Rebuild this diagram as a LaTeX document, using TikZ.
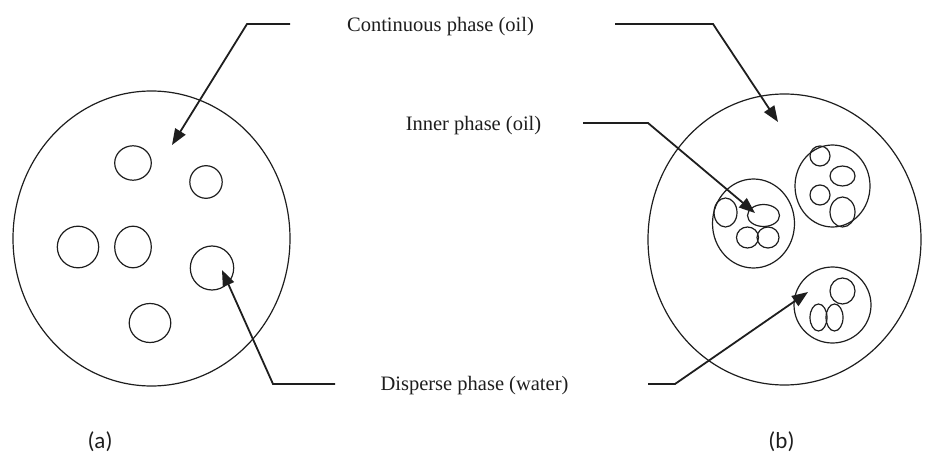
\documentclass[tikz,border=0pt]{standalone}
\usepackage{fontspec}
\setmainfont{Liberation Serif}
\newfontfamily\capfont{Carlito}
\usetikzlibrary{arrows.meta,shapes.geometric}
\definecolor{ink}{HTML}{1E1E1E}

\begin{document}
\begin{tikzpicture}[x=1pt,y=-1pt,
  phase/.style={draw=ink,ellipse,inner sep=0pt,line width=1.2pt},
  sz/.style 2 args={minimum width=#1pt,minimum height=#2pt},
  lbl/.style={anchor=base,inner sep=0pt,text=ink,font=\fontsize{20.5}{24}\selectfont},
  sublbl/.style={anchor=base,inner sep=0pt,text=ink,font=\capfont\fontsize{23}{27}\selectfont},
  pointer/.style={draw=ink,line width=1.8pt,-{Triangle[length=16pt,width=12pt]}}]
\useasboundingbox (0,0) rectangle (925,462);
% (a) water in oil
\node[phase,sz={277}{295}] (outa) at (151.5,238.5) {};
\node[phase,sz={36.6}{34.4}] (wa) at (133,163) {};
\node[phase,sz={32.4}{32.6}] (wb) at (206,182) {};
\node[phase,sz={41.4}{41.6}] (wc) at (78,247) {};
\node[phase,sz={36.6}{41.6}] (wd) at (133,247) {};
\node[phase,sz={43.4}{44}] (we) at (212,268) {};
\node[phase,sz={41.6}{39}] (wf) at (150,323) {};
% (b) oil in water in oil
\node[phase,sz={273}{291}] (outb) at (784.5,239.5) {};
\node[phase,sz={82}{89}] (ga) at (753.5,223.5) {};
\node[phase,sz={23}{29}] (ga1) at (725.5,212.5) {};
\node[phase,sz={32}{22}] (ga2) at (763.5,215.5) {};
\node[phase,sz={22}{21}] (ga3) at (747.5,237.5) {};
\node[phase,sz={22}{21}] (ga4) at (768,237.5) {};
\node[phase,sz={75}{82}] (gb) at (832.5,186) {};
\node[phase,sz={20}{20}] (gb1) at (820,156) {};
\node[phase,sz={25}{20}] (gb2) at (842.5,176) {};
\node[phase,sz={20}{20}] (gb3) at (820,195) {};
\node[phase,sz={25}{30}] (gb4) at (842.5,212) {};
\node[phase,sz={77}{76}] (gc) at (832.5,305) {};
\node[phase,sz={25}{26}] (gc1) at (842.5,291) {};
\node[phase,sz={17}{27}] (gc2) at (818.5,317.5) {};
\node[phase,sz={17}{27}] (gc3) at (834.5,317.5) {};
% labels
\node[lbl] (cont) at (440.5,32) {Continuous phase (oil)};
\node[lbl] (inner) at (473.5,131) {Inner phase (oil)};
\node[lbl] (disp) at (474.5,390) {Disperse phase (water)};
\node[sublbl] (capa) at (100,448) {(a)};
\node[sublbl] (capb) at (781.5,448) {(b)};
% leader lines
\coordinate (c1) at (290,24);  \coordinate (k1) at (247,24);  \coordinate (t1) at (172,145);
\coordinate (c2) at (615,24);  \coordinate (k2) at (713,24);  \coordinate (t2) at (778,122);
\coordinate (c3) at (583,123); \coordinate (k3) at (648,123); \coordinate (t3) at (755,213);
\coordinate (c4) at (335,384); \coordinate (k4) at (273,384); \coordinate (t4) at (222,270);
\coordinate (c5) at (648,384); \coordinate (k5) at (675,384); \coordinate (t5) at (808,292);
\draw[pointer] (c1) -- (k1) -- (t1);
\draw[pointer] (c2) -- (k2) -- (t2);
\draw[pointer] (c3) -- (k3) -- (t3);
\draw[pointer] (c4) -- (k4) -- (t4);
\draw[pointer] (c5) -- (k5) -- (t5);
\end{tikzpicture}
\end{document}
